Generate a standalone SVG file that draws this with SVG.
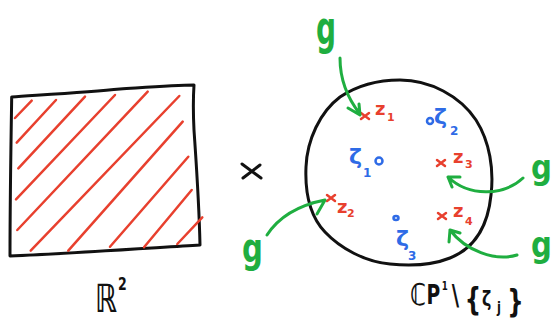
<svg xmlns="http://www.w3.org/2000/svg" width="554" height="320" viewBox="0 0 554 320">
<style>
.ink{fill:none;stroke:#111;stroke-width:3;stroke-linecap:round;stroke-linejoin:round}
.hatch{fill:none;stroke:#e8402e;stroke-width:2.5;stroke-linecap:round}
.rx{fill:none;stroke:#e8402e;stroke-width:2.5;stroke-linecap:round}
.arr{fill:none;stroke:#1fae40;stroke-width:3;stroke-linecap:round;stroke-linejoin:round}
.bo{fill:none;stroke:#2e6be6;stroke-width:2.5}
.t{font-family:"DejaVu Sans","Liberation Sans",sans-serif;font-weight:bold}
.red{fill:#e8402e}
.blue{fill:#2e6be6}
.green{fill:#1fae40}
.blk{fill:#111}
</style>
<g id="plane">
<path class="ink" d="M11.7,97 C40,95 90,92 120,89 C150,87 175,85 194,85 C193,100 193,110 194,130 C196,160 199,200 200,245 C150,248 60,254 10,256 C10,200 11,140 11.7,97 Z"/>
<path class="hatch" d="M15,118 L31.7,100.7 M16.7,142.7 L56,100 M18.3,168.3 L85,96.7 M16,199.3 L115,95 M17.3,230 L147.7,91.7 M30.7,250.7 L179.3,96 M68.3,250.7 L182.7,121.7 M110,246.7 L188.3,156.7 M144,247.3 L191.7,190 M177.3,244 L202.3,217.3"/>
<text class="t blk" transform="translate(95,0) scale(0.7,1)"><tspan x="0" y="312" font-size="39">ℝ</tspan><tspan x="33" y="290" font-size="18">2</tspan></text>
</g>
<g id="times">
<path class="ink" d="M242,164 L261,178 M243,178 L260,165"/>
</g>
<g id="sphere">
<path class="ink" d="M400,80 C430,80 460,96 476,120 C490,142 494,170 491,195 C488,225 475,248 450,258 C430,266 410,266 390,264 C365,262 340,248 325,232 C308,214 305,190 306,167 C307,140 320,112 340,97 C358,85 380,80 400,80 Z"/>
<path class="rx" d="M361,113 L369,119 M361,119 L369,113 M437,160 L445,166 M437,166 L445,160 M327,195 L335,201 M327,201 L335,195 M438,213 L446,219 M438,219 L446,213"/>
<text class="t red" font-size="18" x="375" y="115">z</text><text class="t red" font-size="11" x="387" y="121">1</text>
<text class="t red" font-size="18" x="453" y="163">z</text><text class="t red" font-size="11" x="465" y="168">3</text>
<text class="t red" font-size="18" x="337" y="213">z</text><text class="t red" font-size="11" x="347" y="217">2</text>
<text class="t red" font-size="18" x="453" y="217">z</text><text class="t red" font-size="11" x="465" y="225">4</text>
<circle class="bo" cx="379" cy="161" r="3.5"/>
<circle class="bo" cx="430" cy="121" r="3"/>
<ellipse class="bo" cx="396" cy="218" rx="2.5" ry="2" fill="#2e6be6"/>
<text class="t blue" font-size="22" x="349" y="164">ζ</text><text class="t blue" font-size="12" x="363" y="177">1</text>
<text class="t blue" font-size="22" x="434" y="124">ζ</text><text class="t blue" font-size="12" x="450" y="135">2</text>
<text class="t blue" font-size="22" x="396" y="246">ζ</text><text class="t blue" font-size="12" x="408" y="260">3</text>
<text class="t blk" transform="translate(410,0) scale(0.72,1)"><tspan x="0" y="305" font-size="30">ℂ</tspan><tspan x="23" y="304" font-size="26">P</tspan><tspan x="44" y="290" font-size="12">1</tspan><tspan x="58" y="305" font-size="28">\</tspan><tspan x="76" y="310" font-size="32">{</tspan><tspan x="100" y="306" font-size="22">ζ</tspan><tspan x="121" y="313" font-size="16">j</tspan><tspan x="135" y="312" font-size="32">}</tspan></text>
</g>
<g id="connectors">
<path class="arr" d="M340,58 C340,75 345,95 360,114 M348,108 L360,115 L359,104"/>
<path class="arr" d="M523,178 C505,195 470,198 448,177 M460,177 L448,177 L452,187"/>
<path class="arr" d="M517,255 C495,262 465,250 450,230 M460,233 L450,230 L449,242"/>
<path class="arr" d="M267,235 C280,215 300,205 325,200 M312,203 L325,200 L317,214"/>
</g>
<g id="g-labels">
<text class="t green" font-size="40" transform="translate(316,43.7) scale(0.7,1.17)">g</text>
<text class="t green" font-size="40" transform="translate(531,179) scale(0.73,0.86)">g</text>
<text class="t green" font-size="40" transform="translate(531,256.6) scale(0.73,0.89)">g</text>
<text class="t green" font-size="40" transform="translate(242,262) scale(0.73,1)">g</text>
</g>
</svg>
